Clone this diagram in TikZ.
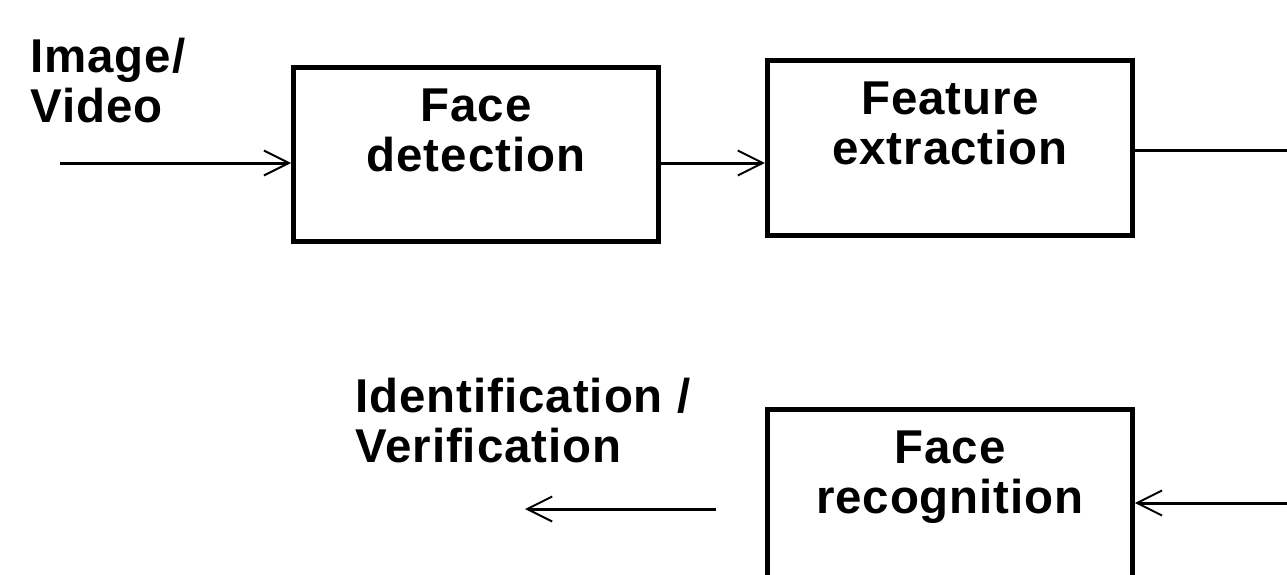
\documentclass[tikz,border=0pt]{standalone}
\usepackage{fontspec}
\setmainfont[LetterSpace=2]{Liberation Sans}
\usetikzlibrary{positioning,arrows.meta}
\tikzset{node distance=2cm, auto,
  stage/.style={draw, line width=2.8pt, inner sep=0pt,
    font=\bfseries\fontsize{27}{28.5}\selectfont},
  lbl/.style={inner sep=0pt, align=left,
    font=\bfseries\fontsize{27}{28.5}\selectfont},
  wire/.style={line width=1.7pt},
  flow/.style={wire, -{Straight Barb[length=0.5cm, width=0.5cm, line width=1.1pt]}}}
\newcommand{\stagetext}[1]{\parbox[c][3.49cm][t]{7.3cm}{\vspace{0.43cm}\centering #1}}

\begin{document}
\begin{tikzpicture}
  \useasboundingbox (0,0) rectangle (25.74,-11.48);
  \clip (0,0) rectangle (25.74,-11.48);

  \node (det) [stage] at (9.52,-3.09) {\stagetext{Face\\detection}};
  \node (feat) [stage, right=2.08cm of det, yshift=0.13cm] {\stagetext{Feature\\extraction}};
  \node (rec) [stage, below=3.38cm of feat] {\stagetext{Face\\recognition}};

  \node (input) [lbl, anchor=north west] at (0.6,-0.76) {Image/\\Video};
  \node (result) [lbl, anchor=north west] at (7.1,-7.56) {Identification /\\Verification};

  \coordinate (src) at (1.2,-3.26);
  \coordinate (edge1) at (26,-3.0);
  \coordinate (edge2) at (26,-10.06);
  \coordinate (idv) at (10.5,-10.18);

  \draw[flow] (src) -- (src -| det.west);
  \draw[flow] (det.east |- src) -- (feat.west |- src);
  \draw[wire] (feat.east |- edge1) -- (edge1);
  \draw[flow] (edge2) -- (edge2 -| rec.east);
  \draw[flow] ([xshift=-0.98cm]rec.west |- idv) -- (idv);
\end{tikzpicture}
\end{document}
